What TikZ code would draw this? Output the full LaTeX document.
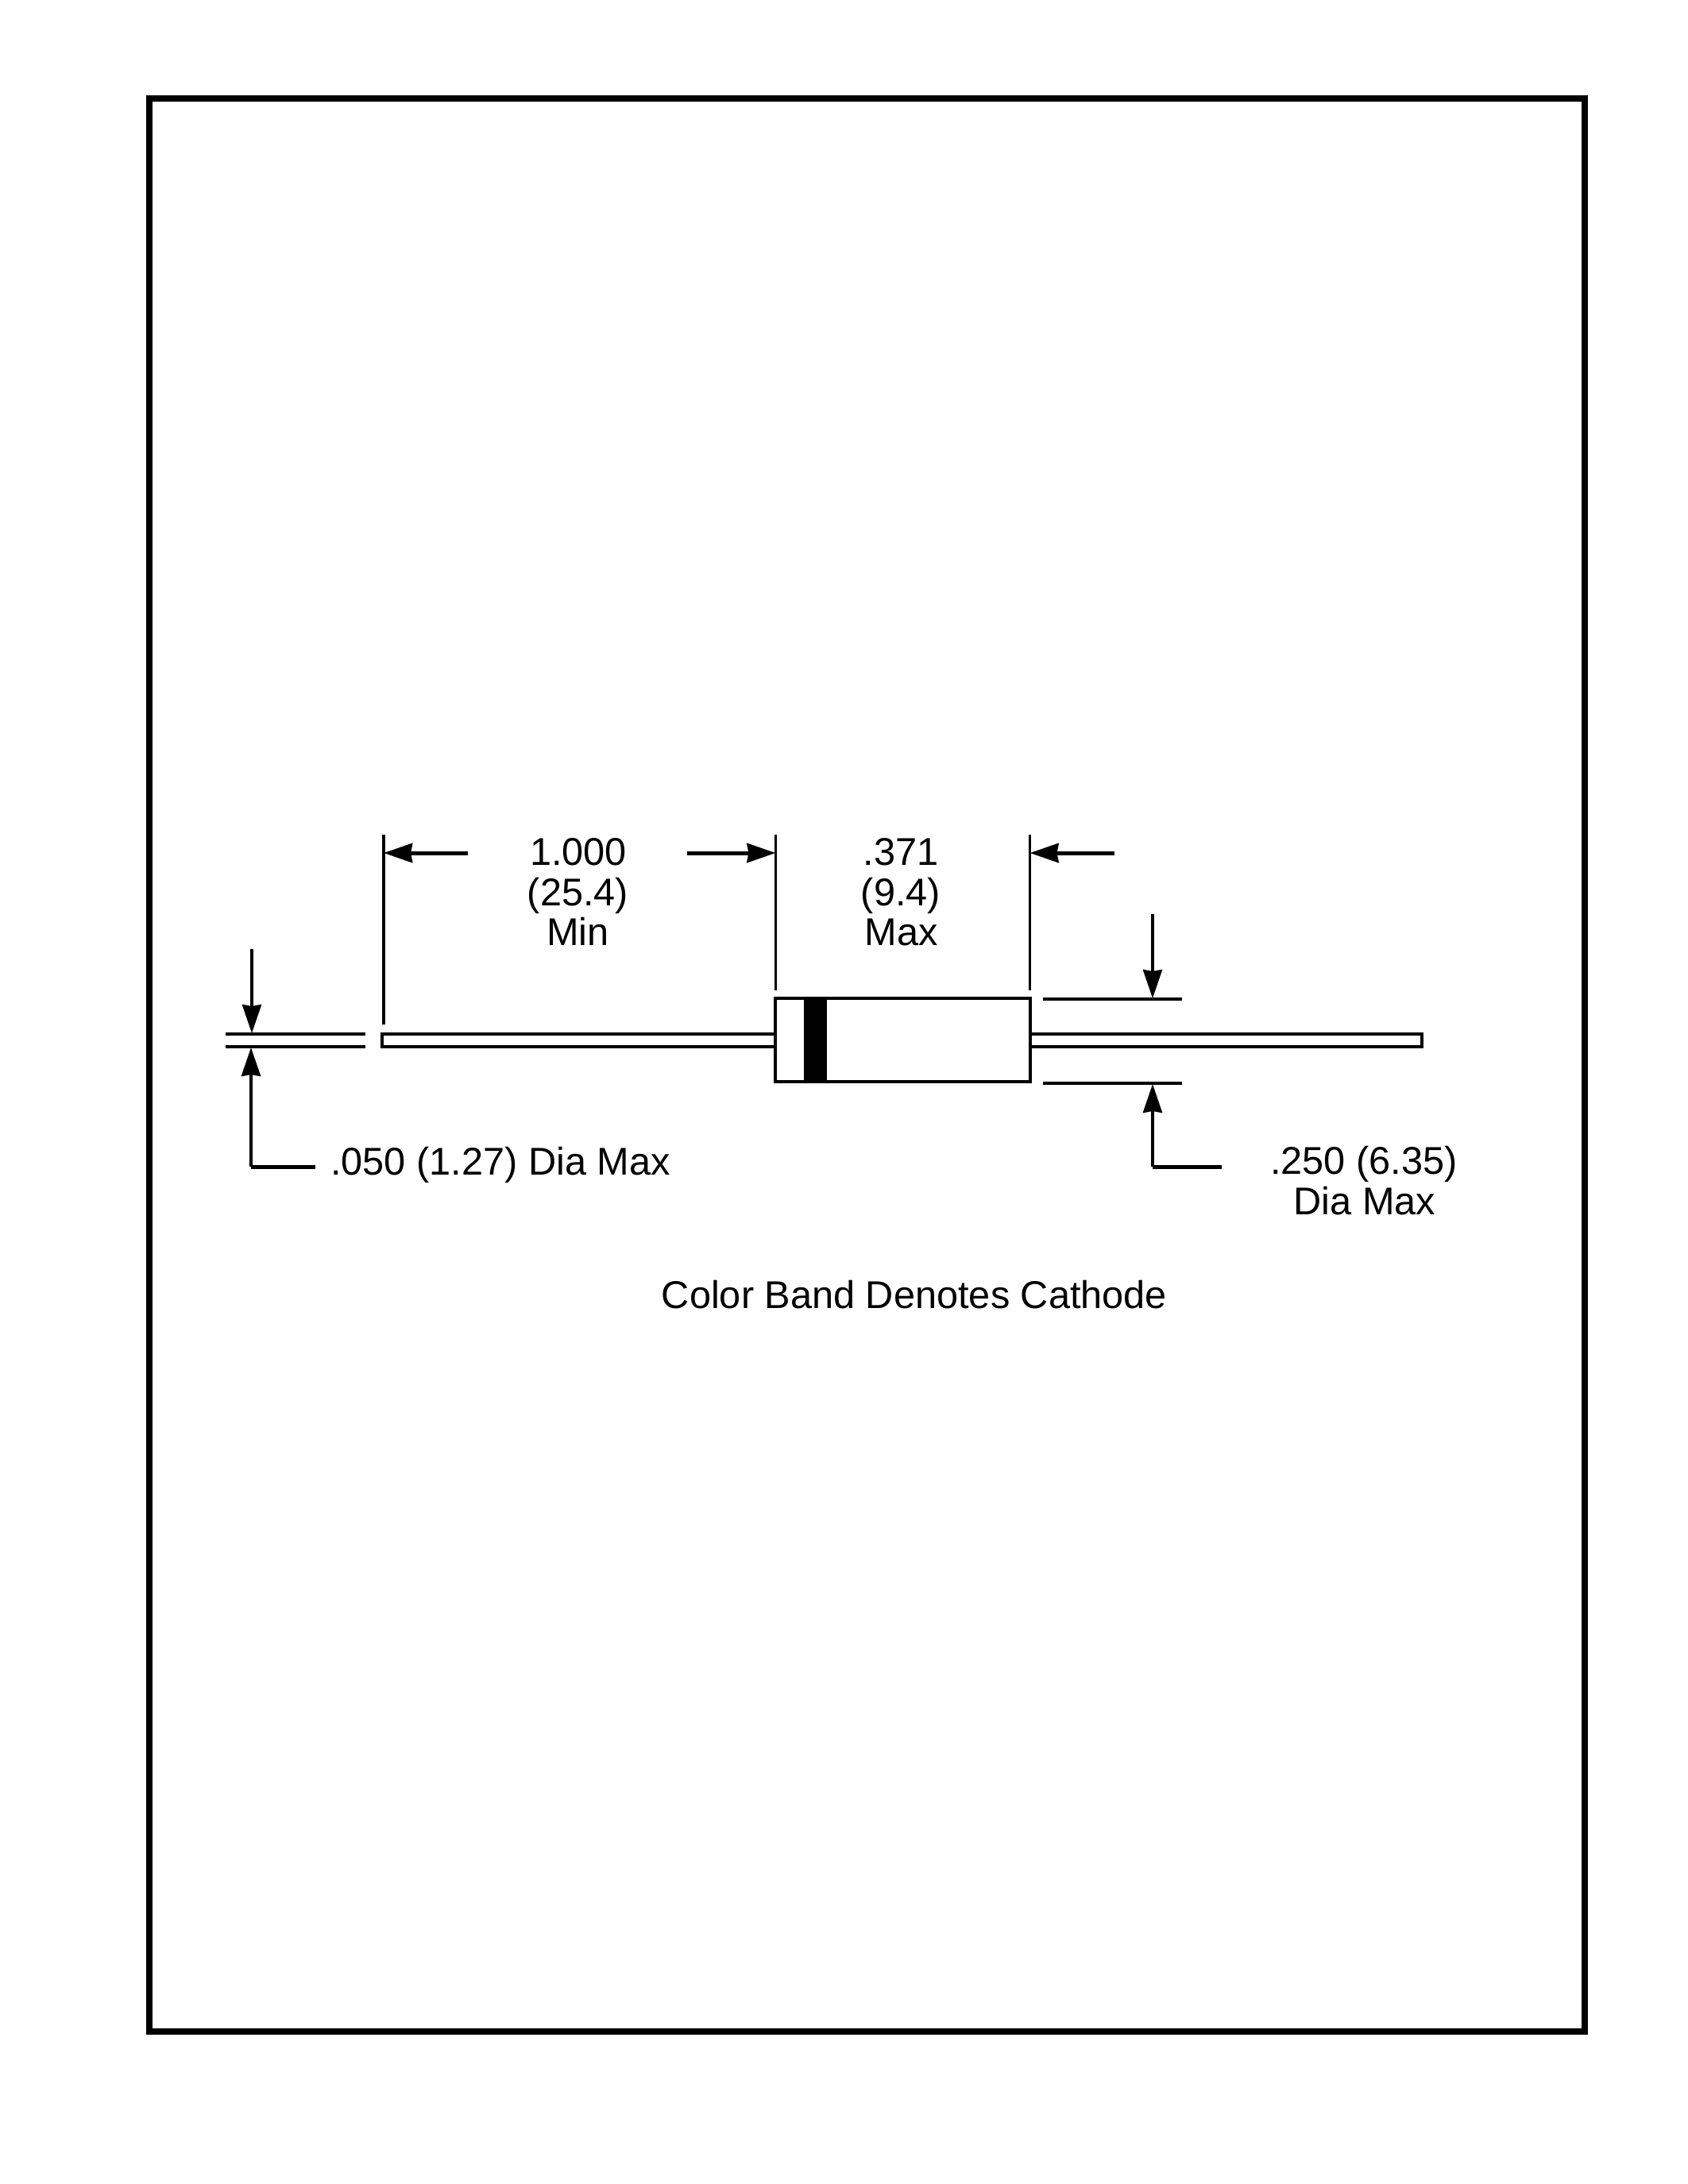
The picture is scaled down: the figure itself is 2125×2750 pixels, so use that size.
\documentclass[tikz,border=0pt]{standalone}
\usepackage{fontspec}
\setmainfont{Liberation Sans}
\usetikzlibrary{arrows.meta}
\tikzset{
  frameline/.style={line width=0.08cm,line cap=rect,line join=miter},
  hline/.style={line width=0.05cm},
  leadline/.style={line width=0.042cm,line join=miter},
  vline/.style={line width=0.035cm},
  dimtip/.style={-{Stealth[length=0.36cm,width=0.24cm,inset=0.02cm]}},
  lbl/.style={anchor=base,inner sep=0pt,font=\fontsize{13.85pt}{14.5pt}\selectfont},
  tinyn/.style={inner sep=0pt,outer sep=0pt,minimum size=0pt}
}
\begin{document}
\begin{tikzpicture}[x=0.01cm,y=-0.01cm]
\useasboundingbox (0,0) rectangle (2125,2750);
\fill[white] (0,0) rectangle (2125,2750);
% frame
\draw[frameline] (188,124) rectangle (1995,2558);
% named points
\coordinate (extLT) at (483,1051); \coordinate (extLB) at (483,1290);
\coordinate (extMT) at (976.5,1051); \coordinate (extMB) at (976.5,1247);
\coordinate (extRT) at (1296.5,1051); \coordinate (extRB) at (1296.5,1247);
\coordinate (aL0) at (589,1074); \coordinate (aL1) at (483,1074);
\coordinate (aM0) at (865,1074); \coordinate (aM1) at (976.5,1074);
\coordinate (aR0) at (1403,1074); \coordinate (aR1) at (1296.5,1074);
\coordinate (stubT0) at (284,1302); \coordinate (stubT1) at (460,1302);
\coordinate (stubB0) at (284,1318); \coordinate (stubB1) at (460,1318);
\coordinate (dn0) at (317,1195); \coordinate (dn1) at (317,1301);
\coordinate (up0) at (397,1469); \coordinate (upC) at (316,1469); \coordinate (up1) at (316,1319);
\coordinate (tickT0) at (1313,1258); \coordinate (tickT1) at (1488,1258);
\coordinate (tickB0) at (1313,1364); \coordinate (tickB1) at (1488,1364);
\coordinate (dnR0) at (1451,1151); \coordinate (dnR1) at (1451,1257);
\coordinate (upR0) at (1538,1469); \coordinate (upRC) at (1451,1469); \coordinate (upR1) at (1451,1365);
% leads
\draw[leadline] (976.5,1302) -- (481,1302) -- (481,1318) -- (976.5,1318);
\draw[leadline] (1296.5,1302) -- (1790,1302) -- (1790,1318) -- (1296.5,1318);
% body
\node[draw,line width=0.04cm,tinyn,minimum width=3.2cm,minimum height=1.05cm] (body) at (1136.5,1309.5) {};
\node[fill=black,tinyn,minimum width=0.28cm,minimum height=1.05cm] (band) at (1026.5,1309.5) {};
% extension lines
\draw[vline] (extLT) -- (extLB);
\draw[vline] (extMT) -- (extMB);
\draw[vline] (extRT) -- (extRB);
% horizontal dimension arrows
\draw[hline,dimtip] (aL0) -- (aL1);
\draw[hline,dimtip] (aM0) -- (aM1);
\draw[hline,dimtip] (aR0) -- (aR1);
% stubs and ticks
\draw[leadline] (stubT0) -- (stubT1);
\draw[leadline] (stubB0) -- (stubB1);
\draw[leadline] (tickT0) -- (tickT1);
\draw[leadline] (tickB0) -- (tickB1);
% vertical dimension arrows
\draw[vline,dimtip] (dn0) -- (dn1);
\draw[hline] (up0) -- (upC);
\draw[vline,dimtip] (upC) -- (up1);
\draw[vline,dimtip] (dnR0) -- (dnR1);
\draw[hline] (upR0) -- (upRC);
\draw[vline,dimtip] (upRC) -- (upR1);
% labels
\node[lbl] (t1a) at (728,1089) {1.000};
\node[lbl] (t1b) at (727.5,1140) {(25.4)};
\node[lbl] (t1c) at (727.5,1190) {Min};
\node[lbl] (t2a) at (1134,1089) {.371};
\node[lbl] (t2b) at (1134,1140) {(9.4)};
\node[lbl] (t2c) at (1134.5,1190) {Max};
\node[lbl] (t3) at (630,1479) {.050 (1.27) Dia Max};
\node[lbl] (t4a) at (1717,1478) {.250 (6.35)};
\node[lbl] (t4b) at (1718,1529) {Dia Max};
\node[lbl] (t5) at (1151,1647) {Color Band Denotes Cathode};
\end{tikzpicture}
\end{document}
